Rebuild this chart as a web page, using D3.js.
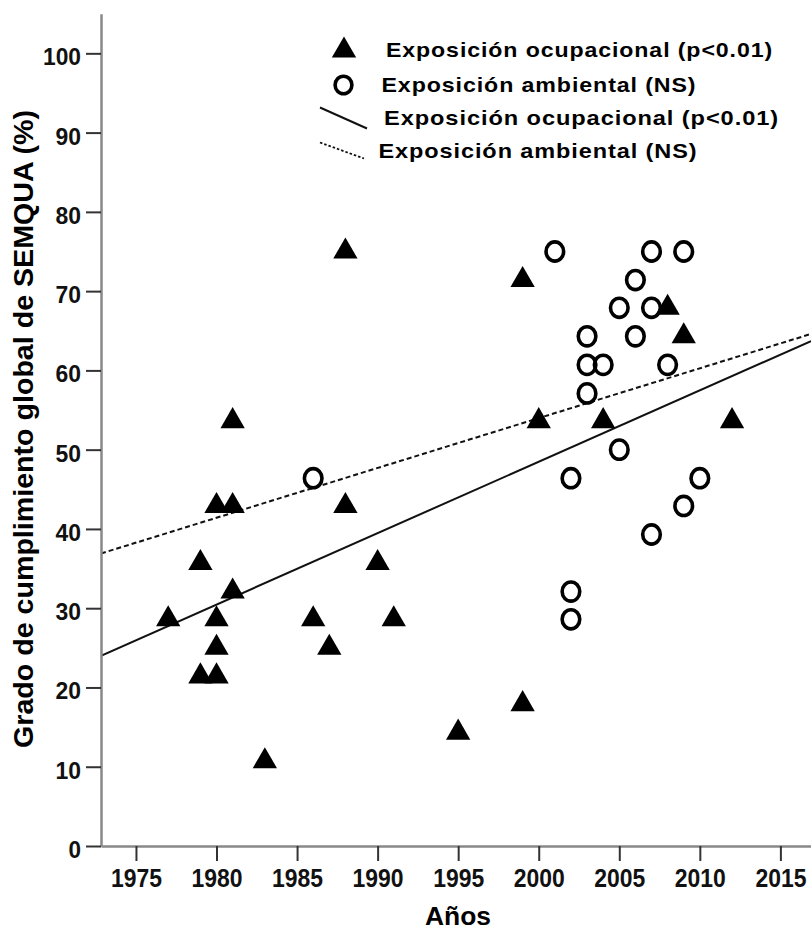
<!DOCTYPE html>
<html lang="es">
<head>
<meta charset="UTF-8">
<title>SEMQUA por año</title>
<script src="https://d3js.org/d3.v7.min.js"></script>
<style>
  body { margin: 0; background: #fff; }
  svg { display: block; font-family: "Liberation Sans", Arial, sans-serif; font-weight: bold; }
</style>
</head>
<body>
<svg width="811" height="931"></svg>
<script>
// Exposición ocupacional (triángulos)
const ocupAnios = [1977, 1979, 1979, 1980, 1980, 1980, 1980, 1981, 1981, 1981, 1983, 1986, 1987,
                   1988, 1988, 1990, 1991, 1995, 1999, 1999, 2000, 2004, 2008, 2009, 2012];
const ocupValores = [28.6, 35.7, 21.4, 42.9, 28.6, 25.0, 21.4, 53.6, 42.9, 32.1, 10.7, 28.6, 25.0,
                     75.0, 42.9, 35.7, 28.6, 14.3, 71.4, 17.9, 53.6, 53.6, 67.9, 64.3, 53.6];

// Exposición ambiental (círculos)
const ambAnios = [1986, 2001, 2002, 2002, 2002, 2003, 2003, 2003, 2004, 2005, 2005,
                  2006, 2006, 2007, 2007, 2007, 2008, 2009, 2009, 2010];
const ambValores = [46.4, 75.0, 46.4, 32.1, 28.6, 64.3, 60.7, 57.1, 60.7, 67.9, 50.0,
                    71.4, 64.3, 75.0, 67.9, 39.3, 60.7, 75.0, 42.9, 46.4];

// rectas de ajuste (extremos)
const ajusteAnios = [1972.83, 2016.9];
const ajusteOcup = [24.0, 63.7];
const ajusteAmb = [36.9, 64.6];

const xTicks = [1975, 1980, 1985, 1990, 1995, 2000, 2005, 2010, 2015];
const yTicks = [0, 10, 20, 30, 40, 50, 60, 70, 80, 90, 100];

const legendTexts = ["Exposición ocupacional (p<0.01)", "Exposición ambiental (NS)",
                     "Exposición ocupacional (p<0.01)", "Exposición ambiental (NS)"];

const svg = d3.select("svg");
const x = d3.scaleLinear().domain([1972.83, 2016.9]).range([101, 811]);
const y = d3.scaleLinear().domain([0, 105]).range([846, 13.7]);

svg.append("defs").append("clipPath").attr("id", "plot")
  .append("rect").attr("x", 101).attr("y", 13).attr("width", 710).attr("height", 833);

// fit lines
const line = d3.line().x(d => x(d[0])).y(d => y(d[1]));
const fits = svg.append("g").attr("clip-path", "url(#plot)");
fits.append("path")
  .attr("d", line(d3.zip(ajusteAnios, ajusteAmb)))
  .attr("fill", "none").attr("stroke", "#111").attr("stroke-width", 2)
  .attr("stroke-dasharray", "5,3");
fits.append("path")
  .attr("d", line(d3.zip(ajusteAnios, ajusteOcup)))
  .attr("fill", "none").attr("stroke", "#111").attr("stroke-width", 2);

// markers
const tri = d3.symbol().type(d3.symbolTriangle).size(256);
svg.append("g").selectAll("path")
  .data(d3.zip(ocupAnios, ocupValores))
  .enter().append("path")
  .attr("d", tri)
  .attr("transform", d => "translate(" + x(d[0]) + "," + y(d[1]) + ")")
  .attr("fill", "#000");

svg.append("g").selectAll("ellipse")
  .data(d3.zip(ambAnios, ambValores))
  .enter().append("ellipse")
  .attr("cx", d => x(d[0]))
  .attr("cy", d => y(d[1]))
  .attr("rx", 8.8).attr("ry", 9.6)
  .attr("fill", "none").attr("stroke", "#000").attr("stroke-width", 3.6);

// axes
const xAxis = svg.append("g").attr("transform", "translate(0,846)")
  .call(d3.axisBottom(x).tickValues(xTicks).tickSize(15).tickSizeOuter(0).tickFormat(d3.format("d")));
xAxis.selectAll("text").attr("y", 41).attr("dy", 0)
  .attr("font-size", 25).attr("fill", "#111")
  .attr("textLength", 51).attr("lengthAdjust", "spacingAndGlyphs");

const yAxis = svg.append("g").attr("transform", "translate(101,0)")
  .call(d3.axisLeft(y).tickValues(yTicks).tickSize(15).tickSizeOuter(0));
yAxis.selectAll("text").attr("x", -20).attr("dy", 0).attr("y", 11.5)
  .attr("font-size", 24).attr("fill", "#111")
  .attr("textLength", d => d === 100 ? 38 : d === 0 ? 12.5 : 25.5)
  .attr("lengthAdjust", "spacingAndGlyphs");

svg.selectAll(".domain").attr("stroke", "#888").attr("stroke-width", 2.5);
svg.selectAll(".tick line").attr("stroke", "#333").attr("stroke-width", 2);
svg.selectAll(".tick text").attr("font-family", null);

// axis titles
svg.append("text")
  .attr("transform", "rotate(-90)")
  .attr("x", -429).attr("y", 33)
  .attr("text-anchor", "middle")
  .attr("font-size", 28)
  .attr("textLength", 638).attr("lengthAdjust", "spacingAndGlyphs")
  .text("Grado de cumplimiento global de SEMQUA (%)");

svg.append("text")
  .attr("x", 458).attr("y", 925)
  .attr("text-anchor", "middle")
  .attr("font-size", 25)
  .attr("textLength", 66).attr("lengthAdjust", "spacingAndGlyphs")
  .text("Años");

// legend
const lg = svg.append("g");
lg.append("path").attr("d", tri).attr("transform", "translate(344,50.5)").attr("fill", "#000");
lg.append("ellipse").attr("cx", 343.5).attr("cy", 85).attr("rx", 8.4).attr("ry", 8.8)
  .attr("fill", "none").attr("stroke", "#000").attr("stroke-width", 3.6);
lg.append("line").attr("x1", 320).attr("y1", 107.5).attr("x2", 367).attr("y2", 128.5)
  .attr("stroke", "#111").attr("stroke-width", 2);
lg.append("line").attr("x1", 320).attr("y1", 142.5).attr("x2", 364).attr("y2", 158.5)
  .attr("stroke", "#111").attr("stroke-width", 1.8).attr("stroke-dasharray", "2.5,2");

const legX = [386, 381.5, 384, 378.5];
const legBase = [57, 91.5, 125, 158];
const legW = [387, 315, 395, 319];
lg.selectAll("text.leg")
  .data(legendTexts)
  .enter().append("text")
  .attr("class", "leg")
  .attr("x", (d, i) => legX[i])
  .attr("y", (d, i) => legBase[i])
  .attr("font-size", 20.5)
  .attr("letter-spacing", 0.8)
  .attr("textLength", (d, i) => legW[i])
  .attr("lengthAdjust", "spacingAndGlyphs")
  .text(d => d);
</script>
</body>
</html>
